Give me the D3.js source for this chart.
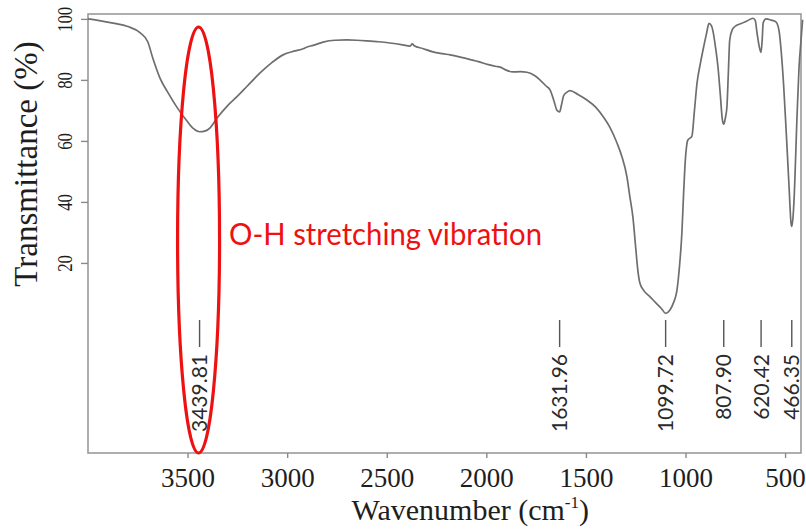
<!DOCTYPE html>
<html>
<head>
<meta charset="utf-8">
<script src="https://cdnjs.cloudflare.com/ajax/libs/d3/7.8.5/d3.min.js"></script>
<style>
  html, body { margin: 0; padding: 0; background: #ffffff; }
  svg { display: block; }
</style>
</head>
<body>
<svg id="chart" width="806" height="529"></svg>
<script>
// ---- data ----
const wavenumber = [
  4000, 3950, 3874, 3800, 3739, 3700, 3674, 3638, 3600, 3553, 3503, 3470, 3440, 3410, 3387, 3352,
  3300, 3252, 3200, 3136, 3080, 3021, 2960, 2920, 2900, 2870, 2820, 2760, 2700, 2650, 2600, 2540,
  2484, 2420, 2383, 2372, 2362, 2320, 2268, 2220, 2182, 2100, 2040, 1990, 1950, 1931, 1900, 1866,
  1830, 1796, 1760, 1731, 1700, 1680, 1660, 1645, 1632, 1622, 1612, 1595, 1580, 1540, 1495, 1450,
  1414, 1380, 1344, 1320, 1294, 1280, 1264, 1250, 1240, 1229, 1210, 1178, 1150, 1120, 1100, 1078,
  1060, 1043, 1030, 1018, 1010, 1003, 995, 988, 968, 955, 942, 925, 912, 895, 882, 870,
  862, 850, 837, 825, 815, 808, 800, 792, 785, 778, 765, 752, 720, 692, 661, 650,
  640, 630, 621, 615, 610, 596, 570, 546, 530, 520, 507, 494, 480, 470, 466, 458,
  455, 440, 430, 420, 412
];
const transmittance = [
  100, 99.5, 98.6, 97.5, 95.5, 92.5, 87, 80.5, 76, 71, 66.5, 64, 63, 63.3, 64.3, 67.5,
  71.5, 74.5, 78, 82.3, 85.5, 88.2, 89.5, 90.2, 90.8, 91.3, 92.4, 93, 93.1, 93, 92.8, 92.5,
  92.1, 91.5, 91.1, 91.8, 91.2, 90.3, 89.2, 88.6, 88.2, 87, 86, 85, 84.4, 84.2, 83.2, 82.6,
  82.7, 82.5, 81.5, 80, 78, 76.7, 73, 70, 69.5, 72, 74.8, 76, 76.5, 75.2, 73.4, 71,
  68, 64.5, 59.3, 55, 48.2, 42, 35, 25, 18, 13.4, 11, 8.9, 7, 5, 3.5, 4.6,
  7, 11, 19, 30, 42, 51.5, 58, 60.3, 61.5, 70, 79, 85.5, 89.8, 95, 98.5, 97.8,
  96, 91, 84.3, 75, 67, 65.5, 67.5, 71.1, 82, 93, 96.5, 97.5, 98.5, 99.3, 100.2, 99.5,
  95, 91, 89, 93, 98.7, 100, 99.6, 99, 96, 89.8, 78, 62.6, 45, 33, 32, 37,
  40.6, 68, 84, 93, 99.7
];
const xTickValues = [3500, 3000, 2500, 2000, 1500, 1000, 500];
const yTickValues = [20, 40, 60, 80, 100];
const peakPositions = [3439.81, 1631.96, 1099.72, 807.90, 620.42, 466.35];
const peakLabels = ["3439.81", "1631.96", "1099.72", "807.90", "620.42", "466.35"];
const annotationText = "O-H stretching vibration";
const xTitle = "Wavenumber (cm";
const xTitleSup = "-1";
const yTitle = "Transmittance (%)";

// ---- layout ----
const svg = d3.select("#chart");
const plotLeft = 88, plotTop = 14, plotRight = 801, plotBottom = 453;

const x = d3.scaleLinear().domain([4000, 410]).range([88, 803]);
const y = d3.scaleLinear().domain([-42.3, 101.6]).range([plotBottom, plotTop]);

const data = wavenumber.map((w, i) => ({ w, t: transmittance[i] }));

// frame
svg.append("rect")
  .attr("x", plotLeft).attr("y", plotTop)
  .attr("width", plotRight - plotLeft).attr("height", plotBottom - plotTop)
  .attr("fill", "none").attr("stroke", "#9a9a9a").attr("stroke-width", 1.6);

// x axis
const xAxis = svg.append("g")
  .attr("transform", `translate(0,${plotBottom})`)
  .call(d3.axisBottom(x).tickValues(xTickValues).tickSize(5).tickFormat(d3.format("d")));
xAxis.select(".domain").remove();
xAxis.selectAll(".tick line").attr("stroke", "#8a8a8a").attr("stroke-width", 1.4);
xAxis.selectAll(".tick text")
  .attr("y", 34).attr("dy", "0")
  .attr("fill", "#1e1e1e")
  .style("font-family", "'Liberation Serif', 'Times New Roman', serif")
  .style("font-size", "27px");

// y axis
const yAxis = svg.append("g")
  .attr("transform", `translate(${plotLeft},0)`)
  .call(d3.axisLeft(y).tickValues(yTickValues).tickSize(7).tickFormat(d3.format("d")));
yAxis.select(".domain").remove();
yAxis.selectAll(".tick line").attr("stroke", "#8a8a8a").attr("stroke-width", 1.4);
yAxis.selectAll(".tick text")
  .attr("x", null).attr("dy", "0")
  .attr("text-anchor", "middle")
  .attr("transform", "translate(-16,0) rotate(-90)")
  .attr("fill", "#1e1e1e")
  .attr("textLength", d => String(d).length * 8.4)
  .attr("lengthAdjust", "spacingAndGlyphs")
  .style("font-family", "'Liberation Serif', 'Times New Roman', serif")
  .style("font-size", "22px");

// axis titles
svg.append("text")
  .attr("transform", "translate(37,164) rotate(-90)")
  .attr("text-anchor", "middle")
  .attr("fill", "#1e1e1e")
  .style("font-family", "'Liberation Serif', 'Times New Roman', serif")
  .style("font-size", "33px")
  .text(yTitle);

const xt = svg.append("text")
  .attr("x", 589).attr("y", 520)
  .attr("text-anchor", "end")
  .attr("fill", "#1e1e1e")
  .style("font-family", "'Liberation Serif', 'Times New Roman', serif")
  .style("font-size", "30px");
xt.append("tspan").text(xTitle);
xt.append("tspan").attr("dy", -12).style("font-size", "17px").text(xTitleSup);
xt.append("tspan").attr("dy", 12).text(")");

// spectrum
const line = d3.line()
  .x(d => x(d.w))
  .y(d => y(d.t))
  .curve(d3.curveMonotoneX);
svg.append("path")
  .datum(data)
  .attr("d", line)
  .attr("fill", "none")
  .attr("stroke", "#6e6e6e")
  .attr("stroke-width", 1.7);

// peak markers
const peaks = svg.append("g");
peakPositions.forEach((p, i) => {
  peaks.append("line")
    .attr("x1", x(p)).attr("x2", x(p))
    .attr("y1", 320).attr("y2", 347)
    .attr("stroke", "#555").attr("stroke-width", 1.4);
  peaks.append("text")
    .attr("transform", `translate(${x(p)},354) rotate(-90)`)
    .attr("text-anchor", "end")
    .attr("dy", "0.36em")
    .attr("fill", "#2a2a2a")
    .style("font-family", "Lato, 'Open Sans', sans-serif")
    .style("font-size", "21px")
    .text(peakLabels[i]);
});

// red ellipse + annotation
svg.append("ellipse")
  .attr("cx", x(peakPositions[0]) - 1)
  .attr("cy", 240)
  .attr("rx", 21)
  .attr("ry", 213)
  .attr("fill", "none")
  .attr("stroke", "#ee1111")
  .attr("stroke-width", 3.2);

svg.append("text")
  .attr("x", 229).attr("y", 245)
  .attr("fill", "#ee1111")
  .attr("textLength", 313)
  .attr("lengthAdjust", "spacingAndGlyphs")
  .style("font-family", "Lato, 'Open Sans', sans-serif")
  .style("font-size", "30px")
  .text(annotationText);
</script>
</body>
</html>
